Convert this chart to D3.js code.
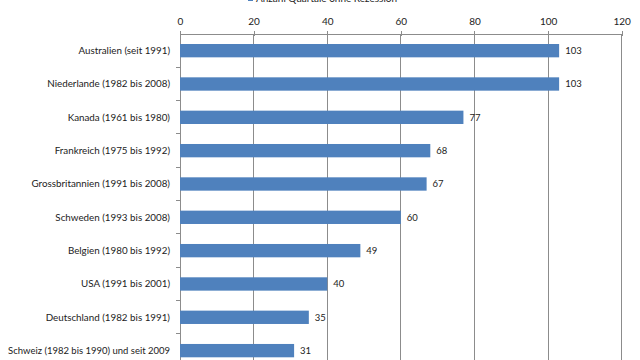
<!DOCTYPE html>
<html><head><meta charset="utf-8">
<script src="https://cdn.jsdelivr.net/npm/d3@7"></script>
<style>body{margin:0;background:#fff}svg{display:block}</style>
</head><body><svg id="c" width="640" height="360"></svg>
<script>
const categories = ["Australien (seit 1991)","Niederlande (1982 bis 2008)","Kanada (1961 bis 1980)","Frankreich (1975 bis 1992)","Grossbritannien (1991 bis 2008)","Schweden (1993 bis 2008)","Belgien (1980 bis 1992)","USA (1991 bis 2001)","Deutschland (1982 bis 1991)","Schweiz (1982 bis 1990) und seit 2009"];
const values = [103,103,77,68,67,60,49,40,35,31];
const tickValues = [0,20,40,60,80,100,120];
const seriesName = "Anzahl Quartale ohne Rezession";

const svg = d3.select("#c");
const font = "Lato, sans-serif";
const x = d3.scaleLinear().domain([0,120]).range([180,621.7]);
const y = d3.scaleBand().domain(categories).range([34,367.3]).paddingInner(0.6).paddingOuter(0.3);
const yb = d3.scaleBand().domain(categories).range([34,367.3]);

svg.append("g").selectAll("line").data(tickValues.slice(1)).join("line")
  .attr("x1",d=>x(d)).attr("x2",d=>x(d)).attr("y1",34).attr("y2",360)
  .attr("stroke","#8c8c8c").attr("stroke-width",1).attr("shape-rendering","crispEdges");

const ax = svg.append("g").attr("transform","translate(0,34)")
  .call(d3.axisTop(x).tickValues(tickValues).tickSize(3).tickPadding(6));
ax.select(".domain").attr("stroke","#8c8c8c").attr("shape-rendering","crispEdges");
ax.selectAll(".tick line").attr("stroke","#8c8c8c").attr("y2",-3).attr("y1",2).attr("shape-rendering","crispEdges");
ax.selectAll("text").attr("font-family",font).attr("font-size",10).attr("fill","#222");

svg.append("line").attr("x1",180).attr("x2",180).attr("y1",34).attr("y2",360)
  .attr("stroke","#8c8c8c").attr("shape-rendering","crispEdges");
svg.append("g").selectAll("line").data(categories).join("line")
  .attr("x1",176).attr("x2",180).attr("y1",d=>yb(d)+yb.step()).attr("y2",d=>yb(d)+yb.step())
  .attr("stroke","#8c8c8c").attr("shape-rendering","crispEdges");

svg.append("g").selectAll("rect").data(values).join("rect")
  .attr("x",x(0)).attr("y",(d,i)=>y(categories[i]))
  .attr("width",d=>x(d)-x(0)).attr("height",y.bandwidth())
  .attr("fill","#4f81bd");

svg.append("g").selectAll("text").data(values).join("text")
  .attr("x",d=>x(d)+6).attr("y",(d,i)=>y(categories[i])+y.bandwidth()/2)
  .attr("dy","0.35em").attr("font-family",font).attr("font-size",9.5).attr("fill","#222")
  .text(d=>d);

svg.append("g").selectAll("text").data(categories).join("text")
  .attr("x",170).attr("y",d=>y(d)+y.bandwidth()/2).attr("dy","0.35em")
  .attr("text-anchor","end").attr("font-family",font).attr("font-size",9.8).attr("fill","#222")
  .text(d=>d)
  .each(function(){
    const w = this.getComputedTextLength();
    if (w > 162) d3.select(this).attr("font-size", 9.8*162/w);
  });

svg.append("rect").attr("x",248).attr("y",-4).attr("width",5).attr("height",5).attr("fill","#4f81bd");
svg.append("text").attr("x",256).attr("y",2).attr("font-family",font).attr("font-size",10).attr("fill","#222").text(seriesName);
</script></body></html>
